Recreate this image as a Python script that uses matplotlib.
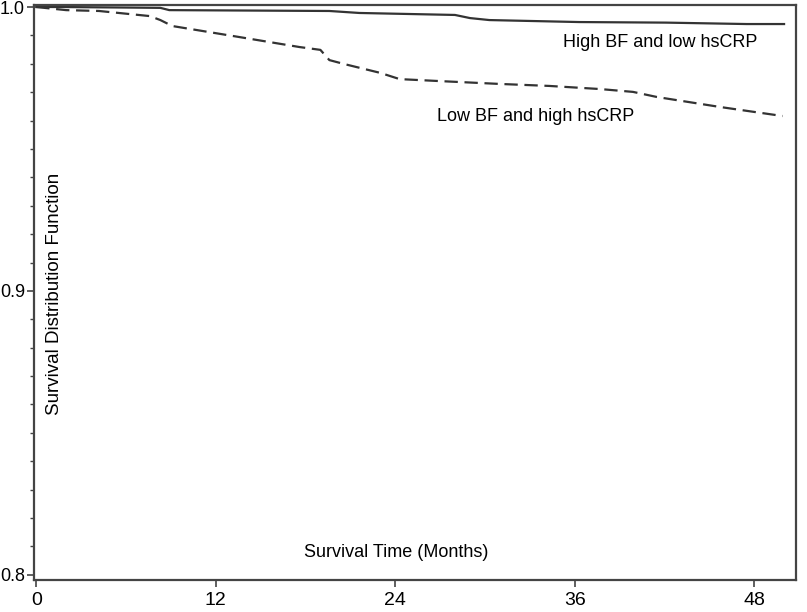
import numpy as np
import matplotlib.pyplot as plt
from matplotlib.ticker import MultipleLocator

plt.rcParams['font.family'] = ['Liberation Sans', 'DejaVu Sans']

# survival curves (months, survival)
t_high = [0, 1.6, 6.2, 8.3, 8.9, 19.6, 21.6, 28.0, 29.0, 30.3, 36.3, 42.1, 47.5, 50.0]
s_high = [1.0, 1.0, 0.9998, 0.9997, 0.9989, 0.9986, 0.9979, 0.9972, 0.9961, 0.9954,
          0.9947, 0.9945, 0.9940, 0.9940]

t_low = [0, 2.0, 4.2, 7.6, 8.3, 9.1, 13.6, 17.6, 19.0, 19.6, 20.6, 23.0, 24.3, 27.0,
         31.0, 34.3, 37.7, 39.9, 41.5, 45.7, 49.9]
s_low = [1.0, 0.9989, 0.9986, 0.9968, 0.9954, 0.9933, 0.9894, 0.9859, 0.9849, 0.9813,
         0.9799, 0.9768, 0.9746, 0.9739, 0.9729, 0.9722, 0.9711, 0.9701, 0.9683,
         0.9648, 0.9616]

xticks = [0, 12, 24, 36, 48]
yticks = [0.8, 0.9, 1.0]

fig = plt.figure(figsize=(8.07, 6.12), dpi=100)
ax = fig.add_axes([0.0421, 0.0515, 0.9443, 0.9403])

col = '#333333'
ax.plot(t_high, s_high, color=col, lw=1.6, ls='-')
ax.plot(t_low, s_low, color=col, lw=1.6, ls=(0, (6, 3)))

ax.set_xlim(-0.15, 50.8)
ax.set_ylim(0.798, 1.0007)
ax.set_xticks(xticks)
ax.set_yticks(yticks)
ax.set_yticklabels(['0.8', '0.9', '1.0'])
ax.yaxis.set_minor_locator(MultipleLocator(0.01))
ax.tick_params(axis='x', which='major', labelsize=14, length=5, width=1.2,
               color='#444444', pad=3)
ax.tick_params(axis='y', which='major', labelsize=13, length=5, width=1.2,
               color='#444444', pad=1.5)
ax.tick_params(axis='y', which='minor', length=3, width=1, color='#444444')
for sp in ax.spines.values():
    sp.set_linewidth(1.6)
    sp.set_color('#444444')

ax.text(41.7, 0.9876, 'High BF and low hsCRP', fontsize=13, ha='center', va='center')
ax.text(33.4, 0.9616, 'Low BF and high hsCRP', fontsize=13, ha='center', va='center')
ax.text(1.24, 0.899, 'Survival Distribution Function', fontsize=13.5, rotation=90,
        ha='center', va='center')
ax.text(24.1, 0.8077, 'Survival Time (Months)', fontsize=13, ha='center', va='center')

fig.savefig('out.png', dpi=100)
